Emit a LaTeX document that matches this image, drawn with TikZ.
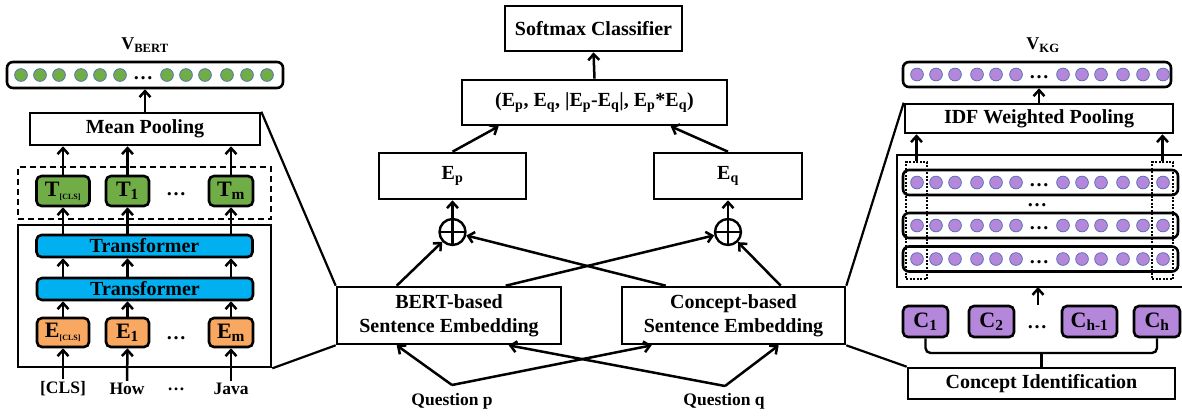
\documentclass[tikz,border=0pt]{standalone}
\usepackage{fontspec}
\setmainfont{Liberation Serif}
\usepackage{tikz}
\usetikzlibrary{arrows.meta,positioning,shapes}

\definecolor{leafgreen}{RGB}{112,173,71}
\definecolor{skyblue}{RGB}{0,176,240}
\definecolor{peach}{RGB}{248,168,96}
\definecolor{lilac}{RGB}{180,135,218}
\definecolor{rimblue}{RGB}{80,110,180}

\newcommand{\labelfont}{\fontsize{20}{24}\selectfont\bfseries}
\newcommand{\wordfont}{\fontsize{17.5}{19}\selectfont\bfseries}
\newcommand{\tokfont}{\fontsize{22}{24}\selectfont\bfseries}
\newcommand{\vecfont}{\fontsize{18}{20}\selectfont\bfseries}
\newcommand{\tinysub}[1]{\textsubscript{\fontsize{8}{8}\selectfont #1}}

% one row of embedding cells: name of the dots, left x, centre y, fill
\newcommand{\cellrow}[4]{
  \foreach \dx in {14,33,52,74,93,113,160,179,198,220,240,260}
    \draw[cell,fill=#4] (#2+\dx,#3) circle (6.4pt);
  \node[font=\labelfont,inner sep=0pt] (#1) at (#2+136,#3+3) {\dots};
}

\begin{document}
\begin{tikzpicture}[x=1pt,y=-1pt,line width=2.6pt,
  box/.style={draw,line width=2.6pt,inner sep=0pt,font=\labelfont,align=center},
  tok/.style={box,rounded corners=5pt,minimum height=30pt,font=\tokfont},
  cell/.style={draw=rimblue,line width=0.7pt},
  word/.style={font=\wordfont,inner sep=1pt},
  arr/.style={-{Straight Barb[length=6pt,width=11pt]},line width=2.5pt},
  wire/.style={line width=2.2pt},
  oplus/.style={circle,draw,line width=2.4pt,minimum size=26pt,inner sep=0pt,
    path picture={\draw[line width=2.4pt]
      (path picture bounding box.north) -- (path picture bounding box.south)
      (path picture bounding box.west) -- (path picture bounding box.east);}}]

\useasboundingbox (0,0) rectangle (1182,416);

% BERT side
\node[font=\vecfont] (vbl) at (145,45) {V\textsubscript{BERT}};
\node[box,rounded corners=6pt,minimum width=276pt,minimum height=26pt] (vb) at (145,75) {};
\cellrow{vbdots}{7}{75}{leafgreen}
\node[box,minimum width=230pt,minimum height=32pt] (mp) at (145,129) {Mean Pooling};
\node[box,dash pattern=on 6pt off 4pt,line width=2.2pt,minimum width=253pt,minimum height=52pt] (tbox) at (144.5,193) {};
\node[box,minimum width=253pt,minimum height=142pt] (enc) at (144.5,296) {};

\node[tok,fill=leafgreen,minimum width=53pt] (t0) at (63,191) {T\tinysub{[CLS]}};
\node[tok,fill=leafgreen,minimum width=43pt] (t1) at (127.5,191) {T\textsubscript{1}};
\node[font=\labelfont] (tdots) at (176,194) {\dots};
\node[tok,fill=leafgreen,minimum width=44pt] (tm) at (231,191) {T\textsubscript{m}};

\node[box,rounded corners=5pt,fill=skyblue,minimum width=216pt,minimum height=22pt] (tr1) at (144.5,246) {Transformer};
\node[box,rounded corners=5pt,fill=skyblue,minimum width=216pt,minimum height=22pt] (tr2) at (145,289) {Transformer};

\node[tok,fill=peach,minimum width=52pt,minimum height=29pt] (e0) at (63,332.5) {E\tinysub{[CLS]}};
\node[tok,fill=peach,minimum width=43pt,minimum height=29pt] (e1) at (127.5,332.5) {E\textsubscript{1}};
\node[font=\labelfont] (edots) at (176,338) {\dots};
\node[tok,fill=peach,minimum width=44pt,minimum height=29pt] (em) at (231,332.5) {E\textsubscript{m}};

\node[word] (w0) at (63,389) {[CLS]};
\node[word] (w1) at (127,389) {How};
\node[word] (wdots) at (176,389) {\dots};
\node[word] (wm) at (231,389) {Java};

\foreach \e/\t/\w in {e0/t0/w0,e1/t1/w1,em/tm/wm} {
  \draw[arr] (\w.north) -- (\e.south);
  \draw[arr] (\e.north) -- (\e.north |- tr2.south);
  \draw[arr] (\e.north |- tr2.north) -- (\e.north |- tr1.south);
  \draw[arr] (\e.north |- tr1.north) -- (\t.south);
  \draw[arr] (\t.north) -- (\t.north |- mp.south);
}
\draw[arr] (mp.north) -- (vb.south);

% matching part
\node[box,minimum width=177pt,minimum height=45pt] (sm) at (593.5,28.5) {Softmax Classifier};
\node[box,minimum width=265pt,minimum height=45pt] (cc) at (594.5,102.5)
  {(E\textsubscript{p}, E\textsubscript{q}, |E\textsubscript{p}-E\textsubscript{q}|, E\textsubscript{p}*E\textsubscript{q})};
\node[box,minimum width=147pt,minimum height=46pt] (ep) at (452.5,176) {E\textsubscript{p}};
\node[box,minimum width=148pt,minimum height=46pt] (eq) at (728,176) {E\textsubscript{q}};
\node[oplus] (op) at (452.5,232) {};
\node[oplus] (oq) at (728,232) {};
\node[box,minimum width=224pt,minimum height=57pt] (bs) at (449,315.5) {BERT-based\\Sentence Embedding};
\node[box,minimum width=223pt,minimum height=57pt] (cs) at (733.5,315.5) {Concept-based\\Sentence Embedding};

\node[word] (qp) at (452,401) {Question p};
\node[word] (qq) at (724,401) {Question q};
\coordinate (qpa) at (452,385);
\coordinate (qqa) at (725,386);

\draw[arr] (qpa) -- ([xshift=61pt]bs.south west);
\draw[arr] (qpa) -- ([xshift=31pt]cs.south west);
\draw[arr] (qqa) -- ([xshift=173pt]bs.south west);
\draw[arr] (qqa) -- ([xshift=158pt]cs.south west);

\draw[arr] ([xshift=61pt]bs.north west) -- (op);
\draw[arr] ([xshift=170pt]bs.north west) -- (oq);
\draw[arr] ([xshift=45pt]cs.north west) -- (op);
\draw[arr] ([xshift=160pt]cs.north west) -- (oq);
\draw[arr] (op.north) -- (ep.south);
\draw[arr] (oq.north) -- (eq.south);
\draw[arr] (ep.north) -- ([xshift=38pt]cc.south west);
\draw[arr] (eq.north) -- ([xshift=210pt]cc.south west);
\draw[arr] (cc.north) -- (sm.south);

% concept side
\node[font=\vecfont] (vkl) at (1043,45) {V\textsubscript{KG}};
\node[box,rounded corners=6pt,minimum width=268pt,minimum height=25pt] (vk) at (1037,74.5) {};
\cellrow{vkdots}{903}{74.5}{lilac}
\node[box,minimum width=268pt,minimum height=29pt] (idf) at (1039,118.5) {IDF Weighted Pooling};
\draw (1182,155) -| (897,287) -- (1182,287);

\node[box,rounded corners=6pt,minimum width=275pt,minimum height=25pt] (r1) at (1040.5,182.5) {};
\cellrow{r1dots}{903}{182.5}{lilac}
\node[font=\labelfont,inner sep=0pt] (rdots) at (1037,205) {\dots};
\node[box,rounded corners=6pt,minimum width=275pt,minimum height=25pt] (r2) at (1040.5,225.5) {};
\cellrow{r2dots}{903}{225.5}{lilac}
\node[box,rounded corners=6pt,minimum width=275pt,minimum height=25pt] (r3) at (1040.5,259) {};
\cellrow{r3dots}{903}{259}{lilac}

\node[draw,dash pattern=on 2pt off 1.5pt,line width=2.2pt,minimum width=21pt,minimum height=117pt] (lcol) at (916.5,220.5) {};
\node[draw,dash pattern=on 2pt off 1.5pt,line width=2.2pt,minimum width=21pt,minimum height=117pt] (rcol) at (1162.5,220.5) {};
\draw[arr] (lcol.north) -- (lcol.north |- idf.south);
\draw[arr] (rcol.north) -- (rcol.north |- idf.south);
\draw[arr] (idf.north) -- (idf.north |- vk.south);

\node[tok,fill=lilac,minimum width=45pt,minimum height=31pt] (c1) at (925.5,321.5) {C\textsubscript{1}};
\node[tok,fill=lilac,minimum width=45pt,minimum height=31pt] (c2) at (991.5,321.5) {C\textsubscript{2}};
\node[font=\labelfont] (cdots) at (1037,327) {\dots};
\node[tok,fill=lilac,minimum width=55pt,minimum height=31pt] (ch1) at (1089.5,321.5) {C\textsubscript{h-1}};
\node[tok,fill=lilac,minimum width=46pt,minimum height=31pt] (ch) at (1157,321.5) {C\textsubscript{h}};
\coordinate (kgfoot) at (1038,287);
\draw[arr] (c1.north -| kgfoot) -- (kgfoot);

\node[box,minimum width=267pt,minimum height=31pt] (ci) at (1041.5,383.5) {Concept Identification};
\coordinate (brace) at (1041.5,353);
\draw[wire,line width=2.4pt,rounded corners=5pt] (c1.south) |- (brace) -| (ch.south);
\draw[wire,line width=2.4pt] (brace) -- (ci.north);

% links between the parts
\draw[wire] (mp.north east) -- (bs.north west);
\draw[wire] (enc.south east) -- (bs.south west);
\draw[wire] (cs.north east) -- (idf.north west);
\draw[wire] (cs.south east) -- (ci.north west);

\end{tikzpicture}
\end{document}
